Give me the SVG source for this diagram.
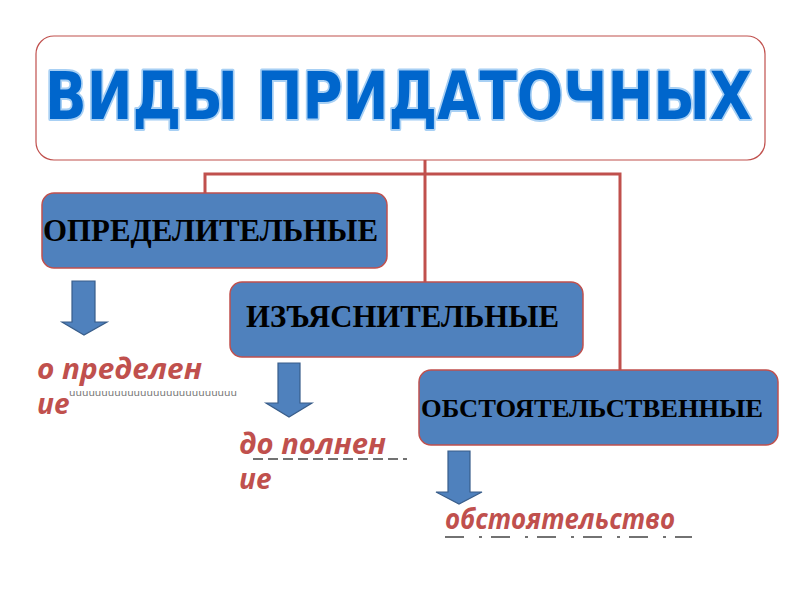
<svg xmlns="http://www.w3.org/2000/svg" width="800" height="600" viewBox="0 0 800 600">
<style>
.box{fill:#4f81bd;stroke:#c0504d;stroke-width:1.5}
.lbl{font-family:"Liberation Serif","Times New Roman",serif;font-weight:bold;fill:#000}
.conn{fill:none;stroke:#c0504d;stroke-width:3}
.arr{fill:#4f81bd;stroke:#385d8a;stroke-width:1.2}
.red{font-family:"Open Sans","DejaVu Sans",sans-serif;font-weight:bold;font-style:italic;fill:#c0504d}
</style>
<rect width="800" height="600" fill="#fff"/>
<g id="title">
<rect x="36" y="36" width="729" height="124" rx="18" fill="#fff" stroke="#c0504d" stroke-width="1.2"/>
<text x="45" y="119" font-family="DejaVu Sans" font-weight="bold" font-size="65" fill="#0066cc" stroke="#a8d0f4" stroke-width="4" paint-order="stroke" stroke-linejoin="round" textLength="707" lengthAdjust="spacingAndGlyphs">ВИДЫ ПРИДАТОЧНЫХ</text>
</g>
<g id="connectors">
<polyline class="conn" points="205,193 205,174 620,174 620,370"/>
<line class="conn" x1="425" y1="160" x2="425" y2="282"/>
</g>
<g id="node-opr">
<rect class="box" x="42" y="193" width="345" height="75" rx="12"/>
<text class="lbl" x="43" y="241" font-size="31" textLength="335" lengthAdjust="spacingAndGlyphs">ОПРЕДЕЛИТЕЛЬНЫЕ</text>
</g>
<g id="node-izj">
<rect class="box" x="230" y="282" width="353" height="75" rx="12"/>
<text class="lbl" x="246" y="327" font-size="31" textLength="313" lengthAdjust="spacingAndGlyphs">ИЗЪЯСНИТЕЛЬНЫЕ</text>
</g>
<g id="node-obst">
<rect class="box" x="419" y="370" width="359" height="75" rx="12"/>
<text class="lbl" x="421" y="417" font-size="25" textLength="342" lengthAdjust="spacingAndGlyphs">ОБСТОЯТЕЛЬСТВЕННЫЕ</text>
</g>
<g id="arrow1">
<polygon class="arr" points="72,281 95,281 95,322 107,322 84,335 62,322 72,322"/>
</g>
<g id="arrow2">
<polygon class="arr" points="278,363 300,363 300,403 312,403 289,417 266,403 278,403"/>
</g>
<g id="arrow3">
<polygon class="arr" points="448,451 470,451 470,492 482,492 459,504 436,492 448,492"/>
</g>
<g id="word1">
<text class="red" x="37" y="379" font-size="28" textLength="165" lengthAdjust="spacingAndGlyphs">о пределен</text>
<text x="69" y="396" font-family="DejaVu Sans" font-size="9" fill="#777" textLength="168" lengthAdjust="spacingAndGlyphs">uuuuuuuuuuuuuuuuuuuuuuuuuu</text>
<text class="red" x="37" y="414" font-size="28">ие</text>
</g>
<g id="word2">
<text class="red" x="239" y="454" font-size="28" textLength="147" lengthAdjust="spacingAndGlyphs">до полнен</text>
<line x1="253" y1="459" x2="407" y2="459" stroke="#444" stroke-width="1.5" stroke-dasharray="10 5"/>
<text class="red" x="239" y="489" font-size="28">ие</text>
</g>
<g id="word3">
<text class="red" x="445" y="529" font-size="28" textLength="230" lengthAdjust="spacingAndGlyphs">обстоятельство</text>
<line x1="445" y1="537" x2="692" y2="537" stroke="#444" stroke-width="1.5" stroke-dasharray="19 15 3 9"/>
</g>
</svg>
